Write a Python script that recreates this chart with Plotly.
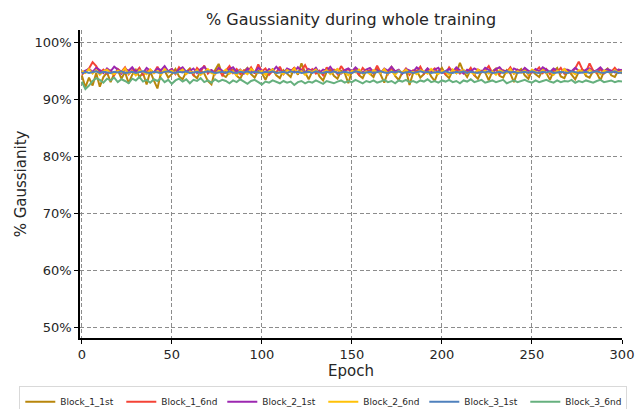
import plotly.graph_objects as go

epochs = list(range(0, 301, 2))

block_1_1st = [
    94.2, 92.1, 93.8, 92.4, 94.6, 92.2, 93.9, 94.7, 93.0, 94.5,
    95.1, 93.6, 94.8, 92.8, 94.3, 95.2, 93.9, 94.6, 92.6, 94.9,
    93.3, 91.9, 94.7, 95.0, 93.8, 94.4, 95.3, 94.0, 93.5, 94.8,
    95.4, 94.2, 93.7, 95.0, 94.5, 93.2, 92.6, 95.1, 96.2, 94.3,
    93.9, 94.8, 95.2, 94.1, 93.6, 94.9, 95.5, 94.4, 93.8, 95.0,
    94.6, 93.4, 94.9, 95.3, 94.2, 93.7, 95.1, 94.5, 93.9, 95.6,
    94.3, 96.3, 94.7, 93.5, 94.9, 95.4, 94.0, 93.3, 94.8, 95.2,
    94.1, 93.6, 95.0, 94.6, 92.8, 94.9, 95.3, 94.2, 93.7, 95.1,
    94.5, 93.9, 95.4, 94.3, 92.9, 94.8, 95.6, 94.1, 93.4, 94.7,
    95.2, 92.5, 94.6, 95.0, 93.8, 94.4, 95.3, 94.0, 93.2, 94.9,
    95.5, 94.3, 93.7, 95.1, 94.6, 96.4, 94.8, 93.9, 95.2, 94.2,
    93.6, 95.0, 94.7, 93.3, 94.9, 95.4, 94.1, 93.8, 95.1, 94.5,
    93.0, 94.8, 95.3, 94.2, 93.6, 95.0, 94.4, 93.9, 95.2, 94.6,
    93.4, 94.9, 95.5, 94.0, 93.7, 95.1, 94.3, 93.5, 94.8, 95.2,
    94.1, 93.8, 95.0, 94.6, 93.3, 94.9, 95.4, 94.2, 93.9, 95.1,
    94.5]

block_1_6nd = [
    94.3, 94.9, 95.4, 96.5, 95.8, 94.7, 95.2, 94.5, 95.0, 94.2,
    95.3, 94.8, 95.6, 94.4, 95.1, 94.7, 95.5, 94.3, 94.9, 95.2,
    94.6, 95.7, 94.5, 95.0, 94.8, 95.3, 94.4, 95.6, 94.9, 94.6,
    95.2, 94.3, 95.5, 94.8, 95.9, 94.5, 95.1, 94.7, 95.4, 94.2,
    95.0, 95.8, 94.6, 95.3, 94.4, 95.1, 94.8, 95.6, 94.5, 96.1,
    94.9, 95.4, 94.3, 95.0, 94.7, 95.7, 94.4, 95.2, 94.9, 95.5,
    94.6, 95.1, 96.0, 94.8, 95.3, 94.5, 95.0, 94.2, 95.6, 94.7,
    95.2, 94.4, 95.8, 94.9, 95.3, 94.6, 95.0, 94.3, 95.5, 94.8,
    95.1, 94.5, 95.9, 94.7, 95.2, 94.4, 95.6, 94.9, 95.0, 94.6,
    95.4, 94.3, 95.1, 94.8, 95.7, 94.5, 95.2, 94.9, 95.4, 94.6,
    95.0, 94.4, 95.6, 94.8, 95.3, 94.5, 95.1, 94.7, 95.5, 94.3,
    95.2, 94.9, 95.0, 95.8, 94.6, 95.3, 94.4, 95.1, 94.8, 95.6,
    94.5, 95.2, 94.7, 95.4, 94.3, 95.0, 94.9, 95.6, 94.6, 95.3,
    94.4, 95.2, 94.8, 95.5, 94.5, 95.1, 94.7, 95.4, 96.6, 95.2,
    94.8, 96.3, 95.0, 94.6, 95.3, 94.5, 95.1, 94.8, 95.5, 94.7,
    95.2]

block_2_1st = [
    94.7, 95.0, 95.3, 94.8, 95.5, 95.1, 94.6, 95.4, 94.9, 95.7,
    95.2, 94.5, 95.3, 95.0, 95.6, 94.8, 95.2, 94.6, 95.5, 95.0,
    94.7, 95.4, 95.1, 95.8, 94.9, 95.3, 94.5, 95.2, 95.6, 94.8,
    95.0, 95.4, 94.6, 95.3, 95.7, 94.9, 95.1, 94.4, 95.5, 95.0,
    94.7, 95.3, 95.6, 94.8, 95.2, 94.5, 95.4, 95.0, 94.7, 95.5,
    95.1, 94.6, 95.3, 94.9, 95.7, 95.0, 94.5, 95.4, 95.1, 94.8,
    95.6, 95.0, 94.7, 95.3, 94.9, 95.5, 94.6, 95.2, 95.0, 95.7,
    94.8, 95.3, 94.5, 95.1, 95.4, 94.9, 95.6, 95.0, 94.7, 95.2,
    95.5, 94.8, 95.1, 94.6, 95.4, 95.0, 95.7, 94.9, 95.2, 94.5,
    95.3, 95.0, 94.8, 95.6, 95.1, 94.7, 95.4, 94.9, 95.2, 95.5,
    94.6, 95.0, 95.3, 94.8, 95.6, 95.1, 94.5, 95.2, 94.9, 95.4,
    95.0, 94.7, 95.5, 95.1, 94.8, 95.3, 95.6, 94.9, 95.0, 94.6,
    95.4, 95.1, 94.8, 95.5, 95.0, 94.7, 95.3, 94.9, 95.6, 95.2,
    94.8, 95.4, 95.0, 94.6, 95.3, 95.1, 94.9, 95.5, 95.0, 94.7,
    95.2, 95.4, 94.8, 95.1, 95.6, 94.9, 95.3, 95.0, 94.7, 95.2,
    95.1]

block_2_6nd = [
    95.0, 94.6, 95.3, 94.5, 95.1, 94.3, 94.9, 95.2, 94.6, 94.4,
    95.0, 94.7, 95.4, 94.5, 94.9, 94.2, 95.1, 94.8, 94.4, 95.2,
    94.6, 94.9, 94.3, 95.3, 94.7, 95.0, 94.5, 94.8, 95.2, 94.4,
    94.9, 94.6, 95.1, 94.3, 94.8, 95.3, 94.6, 94.4, 95.0, 94.7,
    95.2, 94.5, 94.9, 94.2, 95.1, 94.7, 94.4, 95.3, 94.8, 94.6,
    95.0, 94.3, 94.9, 95.2, 94.5, 94.8, 94.4, 95.1, 94.7, 95.4,
    94.6, 94.9, 94.3, 95.0, 94.8, 95.2, 94.5, 94.7, 95.1, 94.4,
    94.9, 95.3, 94.6, 94.8, 94.2, 95.0, 94.7, 95.2, 94.5, 94.9,
    94.4, 95.1, 94.8, 94.6, 95.3, 94.5, 94.9, 94.3, 95.0, 94.7,
    95.2, 94.6, 94.8, 94.4, 95.1, 94.9, 94.5, 95.3, 94.7, 94.4,
    95.0, 94.8, 94.3, 95.2, 94.6, 94.9, 95.1, 94.5, 94.8, 94.4,
    95.2, 94.7, 95.0, 94.5, 94.9, 94.3, 95.1, 94.8, 94.6, 95.3,
    94.5, 94.9, 94.7, 95.0, 94.4, 95.2, 94.8, 94.6, 95.1, 94.5,
    94.9, 94.3, 95.0, 94.7, 95.3, 94.6, 94.8, 94.4, 95.1, 94.9,
    94.5, 95.2, 94.7, 94.9, 94.4, 95.0, 94.8, 94.6, 95.1, 94.7,
    94.9]

block_3_1st = [
    94.5, 94.8, 94.6, 94.7, 94.9, 94.6, 94.8, 94.7, 94.6, 94.8,
    94.7, 94.9, 94.6, 94.7, 94.8, 94.6, 94.7, 94.9, 94.7, 94.6,
    94.8, 94.7, 94.6, 94.8, 94.9, 94.7, 94.6, 94.8, 94.7, 94.9,
    94.6, 94.7, 94.8, 94.6, 94.7, 94.9, 94.8, 94.6, 94.7, 94.8,
    94.6, 94.9, 94.7, 94.6, 94.8, 94.7, 94.9, 94.6, 94.8, 94.7,
    94.6, 94.8, 94.7, 94.9, 94.6, 94.7, 94.8, 94.6, 94.9, 94.7,
    94.8, 94.6, 94.7, 94.8, 94.6, 94.9, 94.7, 94.6, 94.8, 94.7,
    94.9, 94.6, 94.7, 94.8, 94.7, 94.6, 94.9, 94.8, 94.6, 94.7,
    94.8, 94.6, 94.7, 94.9, 94.7, 94.6, 94.8, 94.7, 94.9, 94.6,
    94.7, 94.8, 94.6, 94.7, 94.9, 94.7, 94.8, 94.6, 94.7, 94.8,
    94.6, 94.9, 94.7, 94.6, 94.8, 94.7, 94.9, 94.6, 94.8, 94.7,
    94.6, 94.8, 94.7, 94.9, 94.6, 94.7, 94.8, 94.6, 94.9, 94.7,
    94.8, 94.6, 94.7, 94.8, 94.6, 94.9, 94.7, 94.6, 94.8, 94.7,
    94.9, 94.6, 94.7, 94.8, 94.7, 94.6, 94.9, 94.8, 94.6, 94.7,
    94.8, 94.6, 94.7, 94.9, 94.7, 94.6, 94.8, 94.7, 94.9, 94.6,
    94.7]

block_3_6nd = [
    93.1, 91.8, 92.4, 93.2, 93.7, 93.4, 92.9, 93.6, 93.3, 93.8,
    93.0, 93.5, 93.2, 92.8, 93.6, 93.3, 93.9, 93.1, 93.4, 92.9,
    93.5, 93.2, 93.7, 93.0, 93.4, 92.7, 93.3, 93.6, 93.1, 93.5,
    92.8, 93.4, 93.2, 93.7, 93.0, 93.3, 92.9, 93.5, 93.1, 93.4,
    93.2, 92.8, 93.3, 93.0, 93.5, 93.1, 92.7, 93.2, 93.4, 93.0,
    92.6, 93.1, 92.9, 93.3, 93.0, 92.8, 93.2, 92.9, 93.1, 92.5,
    93.0, 93.2, 92.8, 93.1, 92.9, 93.3, 93.0, 92.7, 93.2, 93.0,
    92.8, 93.1, 93.3, 92.9, 93.2, 93.0, 93.4, 93.1, 92.8, 93.2,
    93.0, 93.3, 92.9, 93.1, 93.4, 93.0, 93.2, 92.8, 93.3, 93.1,
    93.4, 93.0, 93.2, 92.9, 93.3, 93.1, 93.5, 93.0, 93.2, 92.9,
    93.3, 93.1, 93.4, 93.0, 93.2, 92.8, 93.3, 93.1, 93.5, 93.0,
    93.2, 93.4, 92.9, 93.1, 93.3, 93.0, 93.2, 93.4, 92.8, 93.1,
    93.3, 93.0, 93.2, 93.4, 93.1, 92.9, 93.3, 93.0, 93.2, 93.4,
    93.1, 92.9, 93.3, 93.0, 93.2, 93.1, 93.4, 92.9, 93.2, 93.0,
    93.3, 93.1, 92.9, 93.2, 93.4, 93.0, 93.1, 93.3, 93.0, 93.2,
    93.1]

series_names = ["Block_1_1st", "Block_1_6nd", "Block_2_1st",
                "Block_2_6nd", "Block_3_1st", "Block_3_6nd"]
series_values = [block_1_1st, block_1_6nd, block_2_1st,
                 block_2_6nd, block_3_1st, block_3_6nd]
series_colors = ["#b8860b", "#f44336", "#9c27b0",
                 "#ffc107", "#4f81bd", "#66b07e"]

y_ticks = [50, 60, 70, 80, 90, 100]
y_tick_labels = ["50%", "60%", "70%", "80%", "90%", "100%"]
x_ticks = [0, 50, 100, 150, 200, 250, 300]

FONT = "DejaVu Sans"

fig = go.Figure()
for name, vals, col in zip(series_names, series_values, series_colors):
    fig.add_trace(go.Scatter(x=epochs, y=vals, mode="lines", name=name,
                             line=dict(color=col, width=2)))

axis_common = dict(
    showline=True, linecolor="black", linewidth=1.5,
    showgrid=True, gridcolor="#8c8c8c", griddash="4px,2.5px", gridwidth=1,
    zeroline=False, ticks="outside", ticklen=4, tickcolor="black",
    tickfont=dict(family=FONT, size=13, color="#262626"),
    mirror=False,
)

fig.update_layout(
    width=641, height=409,
    margin=dict(l=80, r=19, t=30, b=71, autoexpand=False),
    paper_bgcolor="white", plot_bgcolor="white",
    font=dict(family=FONT, color="#262626"),
    title=dict(text="% Gaussianity during whole training",
               font=dict(family=FONT, size=16, color="#262626"),
               x=0.5476, xanchor="center", y=0.952, yanchor="middle"),
    xaxis=dict(range=[-1, 300], tickvals=x_ticks,
               title=dict(text="Epoch", font=dict(family=FONT, size=15),
                          standoff=4),
               **axis_common),
    yaxis=dict(range=[48.1, 102.15], tickvals=y_ticks, ticktext=y_tick_labels,
               title=dict(text="% Gaussianity", font=dict(family=FONT, size=15),
                          standoff=4),
               **axis_common),
    legend=dict(orientation="h", x=-0.112, xanchor="left",
                y=-0.157, yanchor="top",
                font=dict(family=FONT, size=9, color="#262626"),
                bordercolor="#d9d9d9", borderwidth=1, bgcolor="white",
                entrywidth=56, entrywidthmode="pixels",
                itemwidth=30, tracegroupgap=0),
    showlegend=True,
)

fig.write_html("out.html", config={"displayModeBar": False},
               post_script="document.body.style.margin='0';")
